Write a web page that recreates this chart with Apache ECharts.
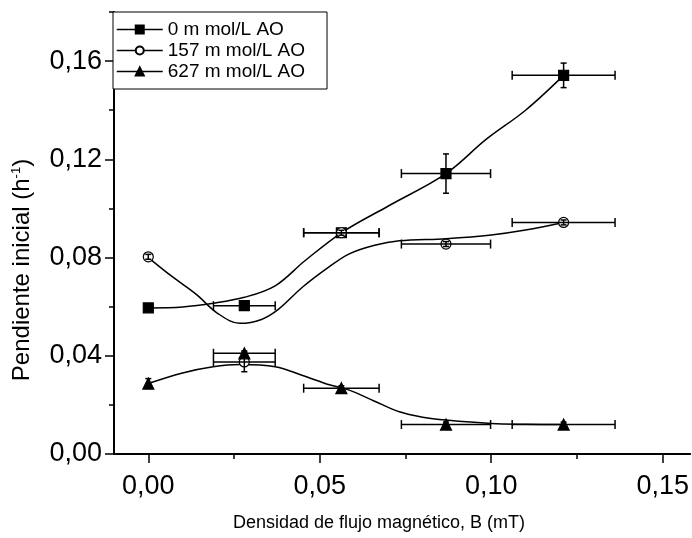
<!DOCTYPE html>
<html>
<head>
<meta charset="utf-8">
<script src="https://cdn.jsdelivr.net/npm/echarts@6/dist/echarts.min.js"></script>
<style>
  html, body { margin: 0; padding: 0; background: #fff; }
  #chart { width: 692px; height: 538px; }
</style>
</head>
<body>
<div id="chart"></div>
<script>
// Magnetic flux density (mT) of each measurement and its uncertainty
const fluxB = [0, 0.028, 0.0563, 0.0868, 0.1211];
const fluxErr = [0, 0.009, 0.011, 0.013, 0.015];

// Initial slope (h^-1) per AO concentration, with uncertainties
const slope0 = [0.0595, 0.0604, 0.0901, 0.1142, 0.1542];
const slope0Err = [0, 0, 0, 0.008, 0.005];
const slope157 = [0.0803, 0.0375, 0.0901, 0.0855, 0.0943];
const slope157Err = [0.001, 0.004, 0.001, 0.001, 0.001];
const slope627 = [0.0287, 0.0410, 0.0268, 0.0120, 0.0120];
const slope627Err = [0.002, 0.001, 0.001, 0.001, 0.001];

// Fitted trend curves
const fit0X = [0, 0.01, 0.019, 0.028, 0.037, 0.0455, 0.0563, 0.07, 0.0868, 0.0984, 0.11, 0.1211];
const fit0Y = [0.0595, 0.0599, 0.0614, 0.0638, 0.0685, 0.0785, 0.0901, 0.1010, 0.1142, 0.1280, 0.1400, 0.1542];
const fit157X = [0, 0.007, 0.014, 0.02, 0.0267, 0.033, 0.038, 0.045, 0.0528, 0.0586, 0.066, 0.0732, 0.0868, 0.1, 0.11, 0.1211];
const fit157Y = [0.0800, 0.0722, 0.0650, 0.0575, 0.0532, 0.0548, 0.0590, 0.0680, 0.0763, 0.0815, 0.0850, 0.0868, 0.0877, 0.0892, 0.0912, 0.0943];
const fit627X = [0, 0.01, 0.0189, 0.0267, 0.037, 0.045, 0.0528, 0.0586, 0.066, 0.0732, 0.08, 0.0868, 0.1, 0.11, 0.1211];
const fit627Y = [0.0287, 0.0330, 0.0355, 0.0364, 0.0355, 0.0320, 0.0282, 0.0260, 0.0215, 0.0172, 0.0150, 0.0138, 0.0124, 0.0121, 0.0120];

// Axis ticks
const xMajor = [0, 0.05, 0.10, 0.15];
const xMinor = [0.025, 0.075, 0.125];
const yMajor = [0, 0.04, 0.08, 0.12, 0.16];
const yMinor = [0.02, 0.06, 0.10, 0.14, 0.18];

const seriesNames = ['0 m mol/L AO', '157 m mol/L AO', '627 m mol/L AO'];

const FONT = '"Liberation Sans", Arial, Helvetica, sans-serif';
const comma = v => v.toFixed(2).replace('.', ',');

const zip = (xs, ys) => xs.map((x, i) => [x, ys[i]]);
const errRows = (ys, yErr) => fluxB.map((x, i) => [x, ys[i], fluxErr[i], yErr[i]]);

// Error bars: horizontal (flux) and vertical (slope) with end caps
function renderErr(params, api) {
  const x = api.value(0), y = api.value(1), ex = api.value(2), ey = api.value(3);
  const children = [];
  const style = { stroke: '#000', lineWidth: 1.5 };
  if (ex > 0) {
    const a = api.coord([x - ex, y]), b = api.coord([x + ex, y]);
    children.push({ type: 'line', shape: { x1: a[0], y1: a[1], x2: b[0], y2: b[1] }, style });
    children.push({ type: 'line', shape: { x1: a[0], y1: a[1] - 4.5, x2: a[0], y2: a[1] + 4.5 }, style });
    children.push({ type: 'line', shape: { x1: b[0], y1: b[1] - 4.5, x2: b[0], y2: b[1] + 4.5 }, style });
  }
  if (ey > 0) {
    const a = api.coord([x, y - ey]), b = api.coord([x, y + ey]);
    children.push({ type: 'line', shape: { x1: a[0], y1: a[1], x2: b[0], y2: b[1] }, style });
    children.push({ type: 'line', shape: { x1: a[0] - 3, y1: a[1], x2: a[0] + 3, y2: a[1] }, style });
    children.push({ type: 'line', shape: { x1: b[0] - 3, y1: b[1], x2: b[0] + 3, y2: b[1] }, style });
  }
  return { type: 'group', children };
}

function fitSeries(xs, ys) {
  return {
    type: 'line', data: zip(xs, ys), smooth: 0.35, showSymbol: false, silent: true,
    lineStyle: { color: '#000', width: 1.5 }, z: 2
  };
}

function markerSeries(name, ys, symbol, size, fill) {
  return {
    name, type: 'line', data: zip(fluxB, ys), symbol, symbolSize: size, showSymbol: true,
    lineStyle: { opacity: 0, width: 0 },
    itemStyle: { color: fill, borderColor: '#000', borderWidth: 1.2 },
    z: 3
  };
}

function errSeries(ys, yErr) {
  return {
    type: 'custom', data: errRows(ys, yErr), renderItem: renderErr,
    encode: { x: 0, y: 1 }, silent: true, z: 4
  };
}

const chart = echarts.init(document.getElementById('chart'), null, { renderer: 'canvas' });

const mainLine = { show: true, onZero: false, lineStyle: { color: '#000', width: 2 } };
const hiddenLine = { show: false, onZero: false };

chart.setOption({
  animation: false,
  backgroundColor: '#fff',
  textStyle: { fontFamily: FONT, color: '#000' },
  grid: { left: 114, right: 0, top: 12, bottom: 84, containLabel: false },
  xAxis: [
    {
      type: 'value', min: -0.01, max: 0.158, position: 'bottom',
      axisLine: mainLine, splitLine: { show: false },
      axisTick: { show: true, inside: false, length: 9, customValues: xMajor, lineStyle: { color: '#000', width: 1.5 } },
      axisLabel: { customValues: xMajor, formatter: comma, fontSize: 27, color: '#000', margin: 19, fontFamily: FONT }
    },
    {
      type: 'value', min: -0.01, max: 0.158, position: 'bottom',
      axisLine: hiddenLine, splitLine: { show: false },
      axisTick: { show: true, length: 5, customValues: xMinor, lineStyle: { color: '#000', width: 1.5 } },
      axisLabel: { show: false }
    }
  ],
  yAxis: [
    {
      type: 'value', min: 0, max: 0.18, position: 'left',
      axisLine: mainLine, splitLine: { show: false },
      axisTick: { show: true, length: 9, customValues: yMajor, lineStyle: { color: '#000', width: 1.5 } },
      axisLabel: { customValues: yMajor, formatter: comma, fontSize: 27, color: '#000', margin: 12, fontFamily: FONT }
    },
    {
      type: 'value', min: 0, max: 0.18, position: 'left',
      axisLine: hiddenLine, splitLine: { show: false },
      axisTick: { show: true, length: 5, customValues: yMinor, lineStyle: { color: '#000', width: 1.5 } },
      axisLabel: { show: false }
    }
  ],
  legend: {
    data: seriesNames,
    orient: 'vertical',
    left: 113, top: 12,
    padding: [8, 22, 8, 3],
    itemGap: 2,
    itemWidth: 46, itemHeight: 10,
    backgroundColor: '#fff',
    borderColor: '#000', borderWidth: 1,
    borderRadius: 0,
    lineStyle: { color: '#000', width: 1.5, opacity: 1 },
    textStyle: { fontSize: 19, color: '#000', fontFamily: FONT },
    selectedMode: false
  },
  graphic: [
    {
      type: 'text', x: 379, y: 523,
      style: {
        text: 'Densidad de flujo magnético, B (mT)',
        font: '18px ' + FONT, fill: '#000', align: 'center', verticalAlign: 'middle'
      }
    },
    {
      type: 'text', x: 22, y: 270, rotation: Math.PI / 2,
      style: {
        text: 'Pendiente inicial (h{sup|-1})',
        rich: { sup: { fontSize: 13, verticalAlign: 'bottom', padding: [0, 0, 11, 0], fontFamily: FONT } },
        font: '24px ' + FONT, fill: '#000', align: 'center', verticalAlign: 'middle'
      }
    }
  ],
  series: [
    fitSeries(fit0X, fit0Y),
    fitSeries(fit157X, fit157Y),
    fitSeries(fit627X, fit627Y),
    markerSeries(seriesNames[0], slope0, 'rect', 10, '#000'),
    markerSeries(seriesNames[1], slope157, 'circle', 10, '#fff'),
    markerSeries(seriesNames[2], slope627, 'triangle', 11, '#000'),
    errSeries(slope0, slope0Err),
    errSeries(slope157, slope157Err),
    errSeries(slope627, slope627Err)
  ]
});
</script>
</body>
</html>
